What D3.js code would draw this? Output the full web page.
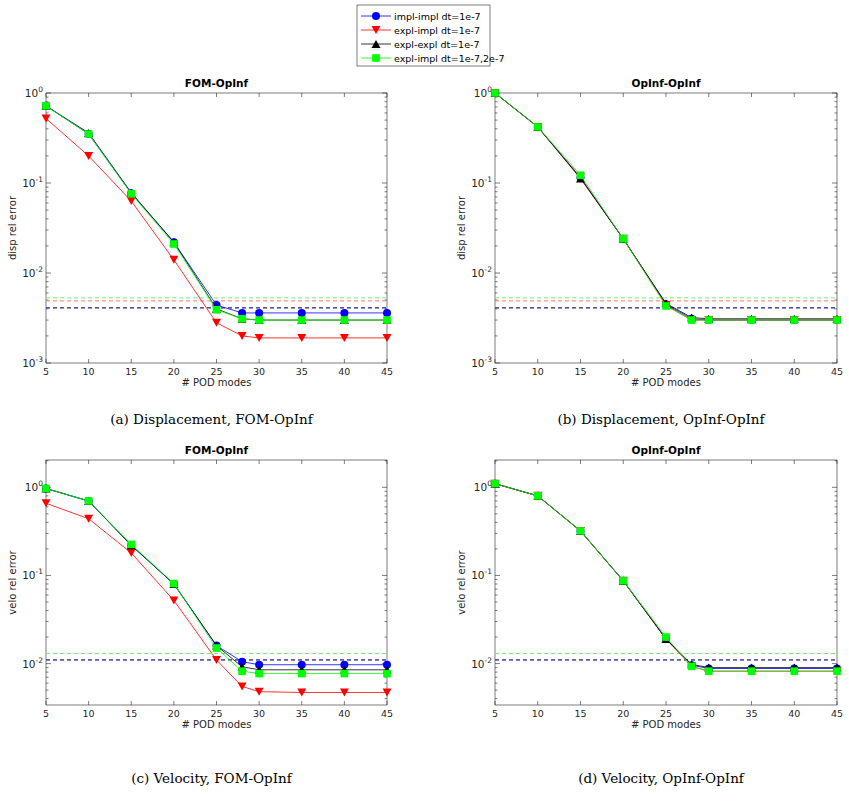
<!DOCTYPE html>
<html><head><meta charset="utf-8">
<script src="https://cdn.jsdelivr.net/npm/d3@7"></script>
<style>body{margin:0;background:#fff}</style></head>
<body><svg id="c" width="849" height="803"></svg>
<script>
const modes=[5,10,15,20,25,28,30,35,40,45];
const xTicks=[5,10,15,20,25,30,35,40,45];
const seriesNames=["impl-impl dt=1e-7","expl-impl dt=1e-7","expl-expl dt=1e-7","expl-impl dt=1e-7,2e-7"];
const seriesColors=["#0000ff","#ff0000","#000000","#00ff00"];
const refColors=["#3333cc","#ff7777","#555555","#77ee77"];
const panelTitles=["FOM-OpInf","OpInf-OpInf","FOM-OpInf","OpInf-OpInf"];
const captions=["(a) Displacement, FOM-OpInf","(b) Displacement, OpInf-OpInf","(c) Velocity, FOM-OpInf","(d) Velocity, OpInf-OpInf"];
const yLabels=["disp rel error","disp rel error","velo rel error","velo rel error"];
const aVals=[
 [0.72,0.35,0.077,0.022,0.0044,0.0036,0.0036,0.0036,0.0036,0.0036],
 [0.52,0.2,0.063,0.014,0.0028,0.002,0.0019,0.0019,0.0019,0.0019],
 [0.72,0.36,0.078,0.022,0.004,0.0031,0.003,0.003,0.003,0.003],
 [0.72,0.35,0.076,0.021,0.0039,0.0031,0.003,0.003,0.003,0.003]];
const bVals=[
 [1.0,0.42,0.115,0.024,0.0045,0.0031,0.003,0.003,0.003,0.003],
 [1.0,0.42,0.115,0.024,0.0044,0.003,0.003,0.003,0.003,0.003],
 [1.0,0.42,0.112,0.024,0.0046,0.0032,0.0031,0.0031,0.0031,0.0031],
 [1.0,0.42,0.122,0.024,0.0043,0.003,0.003,0.003,0.003,0.003]];
const cVals=[
 [0.97,0.7,0.22,0.08,0.016,0.0105,0.0097,0.0097,0.0097,0.0097],
 [0.66,0.44,0.18,0.052,0.011,0.0055,0.0048,0.0047,0.0047,0.0047],
 [0.97,0.7,0.22,0.08,0.016,0.0092,0.0085,0.0085,0.0085,0.0085],
 [0.97,0.7,0.225,0.081,0.015,0.0082,0.0077,0.0077,0.0077,0.0077]];
const dVals=[
 [1.1,0.8,0.32,0.087,0.019,0.0096,0.0088,0.0088,0.0088,0.0088],
 [1.1,0.8,0.32,0.087,0.019,0.0093,0.0082,0.0082,0.0082,0.0082],
 [1.1,0.8,0.32,0.087,0.019,0.0098,0.009,0.009,0.009,0.009],
 [1.1,0.8,0.32,0.087,0.02,0.0093,0.0082,0.0082,0.0082,0.0082]];
const aRef=[0.0041,0.0049,0.0041,0.0053];
const bRef=[0.0041,0.0049,0.0041,0.0053];
const cRef=[0.011,0.013,0.011,0.013];
const dRef=[0.011,0.013,0.011,0.013];
const panels=[
 {vals:aVals,ref:aRef,x0:46,x1:387,y0:93,y1:363,dom:[1e-3,1],cap:424},
 {vals:bVals,ref:bRef,x0:495,x1:837,y0:93,y1:363,dom:[1e-3,1],cap:424},
 {vals:cVals,ref:cRef,x0:46,x1:387,y0:460,y1:705,dom:[Math.pow(10,-2.47),Math.pow(10,0.31)],cap:783},
 {vals:dVals,ref:dRef,x0:495,x1:837,y0:460,y1:705,dom:[Math.pow(10,-2.47),Math.pow(10,0.31)],cap:783}];
const svg=d3.select("#c");
function marker(g,i,x,y){
  const c=seriesColors[i];
  if(i==0) g.append("circle").attr("cx",x).attr("cy",y).attr("r",4).attr("fill",c);
  else if(i==1) g.append("path").attr("d",`M${x-4.5},${y-4}L${x+4.5},${y-4}L${x},${y+4}Z`).attr("fill",c);
  else if(i==2) g.append("path").attr("d",`M${x-4.5},${y+4}L${x+4.5},${y+4}L${x},${y-4}Z`).attr("fill",c);
  else g.append("rect").attr("x",x-3.8).attr("y",y-3.8).attr("width",7.6).attr("height",7.6).attr("fill",c);
}
panels.forEach((p,pi)=>{
  const x=d3.scaleLinear().domain([5,45]).range([p.x0,p.x1]);
  const y=d3.scaleLog().domain(p.dom).range([p.y1,p.y0]);
  const g=svg.append("g");
  g.append("rect").attr("x",p.x0).attr("y",p.y0).attr("width",p.x1-p.x0).attr("height",p.y1-p.y0).attr("fill","#fff").attr("stroke","#262626").attr("stroke-width",0.6);
  xTicks.forEach(t=>{
    g.append("line").attr("x1",x(t)).attr("x2",x(t)).attr("y1",p.y1).attr("y2",p.y1-4).attr("stroke","#262626").attr("stroke-width",0.6);
    g.append("line").attr("x1",x(t)).attr("x2",x(t)).attr("y1",p.y0).attr("y2",p.y0+4).attr("stroke","#262626").attr("stroke-width",0.6);
    g.append("text").attr("x",x(t)).attr("y",p.y1+12).attr("text-anchor","middle").attr("font-family","DejaVu Sans").attr("font-size",9.5).attr("fill","#262626").text(t);
  });
  const lo=Math.floor(Math.log10(p.dom[0])),hi=Math.ceil(Math.log10(p.dom[1]));
  for(let e=lo;e<=hi;e++){
    for(let m=1;m<10;m++){
      const v=m*Math.pow(10,e);
      if(v<p.dom[0]*0.999||v>p.dom[1]*1.001) continue;
      const len=m==1?5:2.5;
      g.append("line").attr("x1",p.x0).attr("x2",p.x0+len).attr("y1",y(v)).attr("y2",y(v)).attr("stroke","#262626").attr("stroke-width",0.6);
      g.append("line").attr("x1",p.x1).attr("x2",p.x1-len).attr("y1",y(v)).attr("y2",y(v)).attr("stroke","#262626").attr("stroke-width",0.6);
      if(m==1){
        const t=g.append("text").attr("x",p.x0-3).attr("y",y(v)+4).attr("text-anchor","end").attr("font-family","DejaVu Sans").attr("font-size",10.5).attr("fill","#262626");
        t.append("tspan").text("10");
        t.append("tspan").attr("dy",-5).attr("font-size",7.5).text(String(e));
      }
    }
  }
  [1,3,2,0].forEach(i=>{
    g.append("line").attr("x1",p.x0).attr("x2",p.x1).attr("y1",y(p.ref[i])).attr("y2",y(p.ref[i])).attr("stroke",refColors[i]).attr("stroke-width",1).attr("stroke-dasharray","4,3");
  });
  const line=d3.line().x((d,k)=>x(modes[k])).y(d=>y(d));
  p.vals.forEach((vals,i)=>{
    g.append("path").attr("d",line(vals)).attr("fill","none").attr("stroke",seriesColors[i]).attr("stroke-width",0.8);
    vals.forEach((v,k)=>marker(g,i,x(modes[k]),y(v)));
  });
  g.append("text").attr("x",(p.x0+p.x1)/2).attr("y",p.y0-6).attr("text-anchor","middle").attr("font-family","DejaVu Sans").attr("font-weight","bold").attr("font-size",10.5).text(panelTitles[pi]);
  g.append("text").attr("x",(p.x0+p.x1)/2).attr("y",p.y1+23).attr("text-anchor","middle").attr("font-family","DejaVu Sans").attr("font-size",10).attr("fill","#262626").text("# POD modes");
  g.append("text").attr("transform",`translate(${p.x0-30},${(p.y0+p.y1)/2}) rotate(-90)`).attr("text-anchor","middle").attr("font-family","DejaVu Sans").attr("font-size",10).attr("fill","#262626").text(yLabels[pi]);
  g.append("text").attr("x",(p.x0+p.x1)/2-5).attr("y",p.cap).attr("text-anchor","middle").attr("font-family","DejaVu Serif").attr("font-size",13.5).text(captions[pi]);
});
const lg=svg.append("g");
lg.append("rect").attr("x",357).attr("y",5).attr("width",133).attr("height",61).attr("fill","#fff").attr("stroke","#262626").attr("stroke-width",0.6);
seriesNames.forEach((n,i)=>{
  const yy=16+i*14;
  lg.append("line").attr("x1",361).attr("x2",391).attr("y1",yy).attr("y2",yy).attr("stroke",seriesColors[i]).attr("stroke-width",0.8);
  marker(lg,i,376,yy);
  lg.append("text").attr("x",394).attr("y",yy+3.5).attr("font-family","DejaVu Sans").attr("font-size",9.5).text(n);
});
</script></body></html>
